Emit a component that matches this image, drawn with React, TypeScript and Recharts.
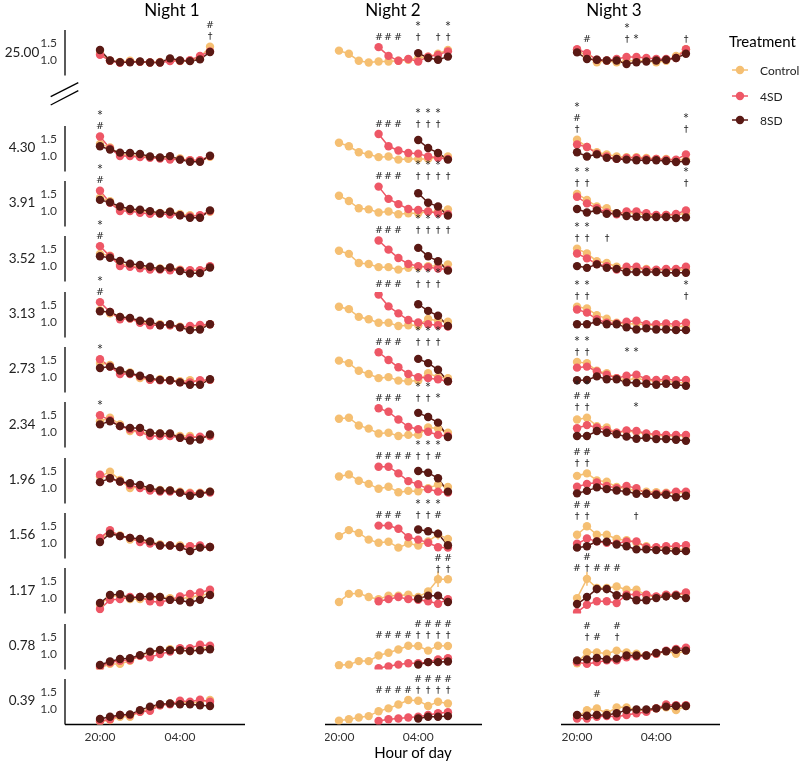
import { LineChart, Line, XAxis, YAxis, ReferenceDot, ErrorBar } from "recharts";

// dose rows, top to bottom
const DOSES = ["25.00", "4.30", "3.91", "3.52", "3.13", "2.73", "2.34", "1.96", "1.56", "1.17", "0.78", "0.39"];
const NIGHTS = ["Night 1", "Night 2", "Night 3"];
// hours after 20:00
const HOURS = [0, 1, 2, 3, 4, 5, 6, 7, 8, 9, 10, 11];
const X_TICKS = [0, 8];
const X_TICK_LABELS = ["20:00", "04:00"];
const Y_TICKS = [1.0, 1.5];
const TREATMENTS = ["Control", "4SD", "8SD"];

const N1_CONTROL = [
  [1.2, 0.98, 0.95, 0.98, 0.95, 0.93, 0.95, 1.0, 0.97, 0.98, 1.08, 1.38],
  [1.35, 1.25, 1.05, 1.03, 1.0, 0.97, 0.95, 0.97, 0.93, 0.88, 0.87, 0.98],
  [1.38, 1.28, 1.05, 1.03, 1.0, 0.97, 0.95, 0.98, 0.92, 0.88, 0.87, 0.98],
  [1.35, 1.3, 1.05, 1.02, 0.97, 0.95, 0.93, 0.95, 0.9, 0.87, 0.87, 0.98],
  [1.34, 1.25, 1.15, 1.1, 1.01, 0.96, 0.94, 0.91, 0.87, 0.85, 0.87, 0.94],
  [1.4, 1.35, 1.16, 1.13, 0.97, 0.92, 0.94, 0.92, 0.88, 0.91, 0.88, 0.92],
  [1.31, 1.41, 1.22, 1.03, 1.0, 0.96, 0.96, 0.93, 0.89, 0.89, 0.84, 0.89],
  [1.33, 1.47, 1.23, 1.0, 1.03, 0.97, 0.95, 0.93, 0.9, 0.87, 0.87, 0.9],
  [1.12, 1.31, 1.22, 1.1, 1.08, 1.03, 0.96, 0.93, 0.93, 0.91, 0.89, 0.89],
  [0.81, 1.05, 1.07, 0.97, 0.97, 1.0, 1.03, 1.0, 0.97, 1.03, 1.07, 1.14],
  [0.6, 0.72, 0.72, 0.81, 0.95, 1.05, 1.11, 1.14, 1.11, 1.09, 1.14, 1.21],
  [0.64, 0.69, 0.78, 0.78, 0.92, 1.02, 1.11, 1.16, 1.21, 1.16, 1.21, 1.26],
];
const N1_4SD = [
  [1.15, 0.98, 0.92, 0.95, 0.95, 0.93, 0.93, 0.97, 0.98, 1.0, 1.12, 1.25],
  [1.56, 1.22, 1.0, 1.0, 0.97, 0.95, 0.93, 0.9, 0.9, 0.88, 0.88, 1.0],
  [1.58, 1.24, 1.0, 1.0, 0.95, 0.92, 0.92, 0.9, 0.88, 0.85, 0.88, 1.0],
  [1.57, 1.28, 1.0, 0.98, 0.94, 0.9, 0.9, 0.88, 0.88, 0.88, 0.88, 1.0],
  [1.57, 1.29, 1.08, 1.1, 0.98, 0.91, 0.91, 0.91, 0.85, 0.89, 0.92, 0.94],
  [1.51, 1.3, 1.09, 1.09, 1.02, 0.92, 0.91, 0.9, 0.85, 0.85, 0.91, 0.92],
  [1.48, 1.34, 1.17, 1.08, 1.0, 0.89, 0.89, 0.89, 0.84, 0.84, 0.87, 0.89],
  [1.38, 1.28, 1.19, 1.09, 1.0, 0.93, 0.9, 0.9, 0.87, 0.85, 0.85, 0.87],
  [1.15, 1.37, 1.2, 1.15, 1.03, 0.99, 0.93, 0.93, 0.89, 0.91, 0.93, 0.89],
  [0.69, 0.95, 0.97, 1.03, 1.03, 0.91, 0.88, 0.95, 1.05, 1.12, 1.16, 1.24],
  [0.64, 0.76, 0.81, 0.83, 0.95, 0.91, 1.0, 1.07, 1.17, 1.17, 1.27, 1.24],
  [0.66, 0.71, 0.83, 0.83, 0.92, 0.95, 1.11, 1.14, 1.24, 1.21, 1.27, 1.21],
];
const N1_8SD = [
  [1.29, 0.99, 0.94, 0.94, 0.96, 0.93, 0.93, 1.05, 0.99, 0.97, 1.02, 1.23],
  [1.28, 1.19, 1.1, 1.09, 1.06, 0.99, 0.96, 1.0, 0.9, 0.84, 0.84, 1.01],
  [1.32, 1.25, 1.13, 1.06, 1.04, 1.0, 0.94, 0.98, 0.88, 0.81, 0.81, 1.02],
  [1.28, 1.24, 1.15, 1.07, 1.03, 0.98, 0.92, 0.96, 0.86, 0.79, 0.8, 0.96],
  [1.31, 1.29, 1.15, 1.12, 1.04, 1.01, 0.91, 0.94, 0.85, 0.77, 0.79, 0.94],
  [1.26, 1.3, 1.19, 1.11, 1.04, 0.97, 0.92, 0.91, 0.85, 0.78, 0.78, 0.94],
  [1.22, 1.31, 1.17, 1.12, 1.12, 0.98, 0.96, 0.96, 0.84, 0.76, 0.79, 0.93],
  [1.17, 1.28, 1.19, 1.14, 1.09, 1.0, 0.93, 0.93, 0.87, 0.78, 0.84, 0.9],
  [1.03, 1.27, 1.2, 1.15, 1.12, 1.05, 0.93, 0.93, 0.89, 0.77, 0.87, 0.89],
  [0.86, 1.09, 1.11, 1.0, 1.03, 1.05, 1.03, 0.95, 0.93, 0.88, 0.95, 1.09],
  [0.69, 0.79, 0.86, 0.88, 0.97, 1.07, 1.12, 1.11, 1.11, 1.09, 1.11, 1.14],
  [0.72, 0.78, 0.83, 0.85, 0.97, 1.07, 1.14, 1.16, 1.14, 1.14, 1.11, 1.09],
];

const N2_CONTROL = [
  [1.27, 1.18, 0.98, 0.93, 0.96, 0.96, 0.98, 1.01, 1.06, 1.1, 1.18, 1.29],
  [1.38, 1.28, 1.11, 1.05, 0.97, 0.99, 0.9, 0.92, 0.92, 0.92, 0.97, 0.99],
  [1.44, 1.29, 1.08, 1.05, 0.96, 0.99, 0.91, 0.94, 0.94, 0.99, 0.99, 1.05],
  [1.44, 1.35, 1.09, 1.06, 0.97, 0.97, 0.9, 0.95, 0.97, 1.0, 1.0, 1.05],
  [1.44, 1.37, 1.15, 1.08, 0.98, 0.98, 0.89, 0.91, 0.91, 1.09, 1.04, 1.01],
  [1.47, 1.4, 1.18, 1.09, 0.97, 1.0, 0.9, 0.88, 0.9, 1.11, 1.0, 0.97],
  [1.38, 1.41, 1.19, 1.1, 0.96, 0.98, 0.89, 0.92, 0.92, 1.13, 1.1, 0.98],
  [1.33, 1.39, 1.21, 1.12, 0.98, 1.04, 0.88, 0.92, 0.91, 1.0, 1.1, 1.03],
  [1.2, 1.37, 1.29, 1.1, 1.01, 1.04, 0.87, 0.99, 0.93, 1.05, 1.25, 1.12],
  [0.89, 1.12, 1.14, 1.03, 0.97, 1.07, 1.07, 1.1, 1.03, 1.19, 1.54, 1.54],
  [0.68, 0.7, 0.8, 0.8, 0.96, 1.04, 1.13, 1.24, 1.23, 1.1, 1.24, 1.23],
  [0.67, 0.71, 0.76, 0.8, 0.94, 1.02, 1.13, 1.26, 1.24, 1.09, 1.21, 1.16],
];
const N2_4SD = [
  [null, null, null, null, 1.37, 1.12, 0.98, 1.03, 0.96, 1.1, 1.15, 1.25],
  [null, null, null, null, 1.63, 1.28, 1.16, 1.09, 1.07, 0.99, 0.95, 0.92],
  [null, null, null, null, 1.7, 1.35, 1.2, 1.06, 1.03, 0.99, 0.94, 0.91],
  [null, null, null, null, 1.73, 1.47, 1.23, 1.06, 1.0, 0.97, 0.93, 0.9],
  [null, null, null, null, 1.79, 1.45, 1.25, 1.06, 0.99, 0.94, 0.91, 0.87],
  [null, null, null, null, 1.71, 1.49, 1.28, 1.09, 1.0, 0.97, 0.94, 0.88],
  [null, null, null, null, 1.68, 1.58, 1.36, 1.15, 1.08, 1.01, 0.92, 0.89],
  [null, null, null, null, 1.61, 1.61, 1.42, 1.2, 1.11, 0.97, 0.9, 0.87],
  [null, null, null, null, 1.5, 1.5, 1.41, 1.17, 1.1, 1.01, 0.88, 0.87],
  [null, null, null, null, 0.91, 0.97, 1.03, 0.97, 0.95, 0.91, 0.84, 0.97],
  [null, null, null, null, 0.6, 0.65, 0.7, 0.74, 0.74, 0.77, 0.85, 0.88],
  [null, null, null, null, 0.66, 0.71, 0.73, 0.76, 0.78, 0.83, 0.88, 0.91],
];
const N2_8SD = [
  [null, null, null, null, null, null, null, null, 1.2, 1.06, 1.01, 1.1],
  [null, null, null, null, null, null, null, null, 1.46, 1.23, 1.09, 0.9],
  [null, null, null, null, null, null, null, null, 1.51, 1.24, 1.13, 0.87],
  [null, null, null, null, null, null, null, null, 1.52, 1.28, 1.14, 0.87],
  [null, null, null, null, null, null, null, null, 1.51, 1.32, 1.18, 0.89],
  [null, null, null, null, null, null, null, null, 1.52, 1.4, 1.21, 0.88],
  [null, null, null, null, null, null, null, null, 1.55, 1.43, 1.27, 0.86],
  [null, null, null, null, null, null, null, null, 1.49, 1.44, 1.28, 0.9],
  [null, null, null, null, null, null, null, null, 1.39, 1.34, 1.27, 0.94],
  [null, null, null, null, null, null, null, null, 0.98, 1.07, 1.07, 0.89],
  [null, null, null, null, null, null, null, null, 0.7, 0.77, 0.77, 0.79],
  [null, null, null, null, null, null, null, null, 0.73, 0.78, 0.78, 0.8],
];

const N3_CONTROL = [
  [1.29, 1.1, 0.94, 0.98, 0.94, 0.98, 0.98, 0.98, 0.94, 0.98, 1.12, 1.31],
  [1.47, 1.26, 1.11, 1.05, 0.99, 0.97, 0.97, 0.95, 0.92, 0.92, 0.88, 0.9],
  [1.49, 1.32, 1.13, 1.08, 0.94, 0.96, 0.94, 0.89, 0.85, 0.89, 0.89, 0.94],
  [1.5, 1.36, 1.14, 1.09, 0.98, 0.92, 0.92, 0.92, 0.88, 0.9, 0.88, 0.9],
  [1.44, 1.39, 1.2, 1.1, 0.98, 0.94, 0.96, 0.91, 0.91, 0.91, 0.87, 0.89],
  [1.43, 1.4, 1.18, 1.11, 0.97, 0.92, 0.97, 0.91, 0.88, 0.88, 0.85, 0.83],
  [1.36, 1.41, 1.17, 1.13, 0.98, 1.03, 1.0, 0.94, 0.91, 0.89, 0.89, 0.89],
  [1.35, 1.42, 1.22, 1.18, 1.03, 0.98, 0.93, 0.9, 0.88, 0.87, 0.86, 0.87],
  [1.24, 1.48, 1.24, 1.24, 1.12, 1.08, 1.01, 0.91, 0.87, 0.87, 0.82, 0.82],
  [1.0, 1.55, 1.29, 1.29, 1.33, 1.24, 1.24, 1.08, 1.03, 1.08, 1.08, 1.14],
  [0.74, 1.05, 1.05, 1.01, 1.1, 1.05, 1.01, 0.96, 1.01, 1.08, 1.01, 1.1],
  [0.76, 0.97, 1.02, 0.88, 1.05, 1.05, 0.97, 0.97, 1.02, 1.05, 0.97, 1.09],
];
const N3_4SD = [
  [1.31, 1.2, 1.01, 0.99, 1.03, 1.09, 1.09, 1.06, 1.03, 1.03, 1.06, 1.31],
  [1.33, 1.26, 1.07, 0.99, 0.92, 0.95, 0.95, 0.92, 0.92, 0.9, 0.9, 1.05],
  [1.41, 1.22, 1.08, 0.96, 0.91, 0.99, 0.99, 0.94, 0.89, 0.89, 0.92, 1.02],
  [1.36, 1.22, 1.06, 1.0, 0.9, 0.98, 0.98, 0.9, 0.9, 0.92, 0.92, 0.98],
  [1.36, 1.27, 1.08, 0.98, 0.96, 1.01, 1.04, 0.94, 0.94, 0.96, 0.94, 0.98],
  [1.27, 1.3, 1.16, 1.07, 0.97, 1.04, 1.07, 0.94, 0.92, 0.94, 0.91, 0.92],
  [1.11, 1.2, 1.13, 1.06, 0.98, 1.05, 1.03, 0.96, 0.94, 0.92, 0.92, 0.92],
  [1.04, 1.12, 1.16, 1.06, 1.0, 1.06, 1.0, 0.85, 0.84, 0.85, 0.9, 0.9],
  [0.98, 1.13, 1.05, 1.01, 0.98, 1.05, 1.05, 0.88, 0.88, 0.91, 0.91, 0.94],
  [0.6, 0.81, 0.91, 0.91, 0.86, 1.1, 1.1, 1.1, 1.05, 1.1, 1.1, 1.16],
  [0.77, 0.72, 0.77, 0.82, 0.82, 0.91, 0.93, 0.96, 1.01, 1.1, 1.15, 1.18],
  [0.73, 0.73, 0.78, 0.8, 0.78, 0.83, 0.88, 0.92, 1.02, 1.13, 1.11, 1.11],
];
const N3_8SD = [
  [1.22, 1.03, 1.01, 0.99, 0.99, 0.89, 0.94, 0.96, 0.99, 1.01, 1.06, 1.18],
  [1.11, 0.99, 1.05, 0.95, 0.92, 0.9, 0.88, 0.88, 0.88, 0.86, 0.83, 0.85],
  [1.06, 0.96, 1.02, 0.92, 0.94, 0.86, 0.84, 0.83, 0.83, 0.83, 0.8, 0.82],
  [1.0, 0.95, 1.05, 0.95, 0.92, 0.83, 0.83, 0.83, 0.83, 0.81, 0.81, 0.81],
  [0.94, 0.94, 1.01, 0.94, 0.94, 0.85, 0.79, 0.82, 0.79, 0.79, 0.77, 0.77],
  [0.91, 0.92, 1.02, 0.94, 0.94, 0.85, 0.83, 0.81, 0.78, 0.81, 0.78, 0.75],
  [0.89, 0.89, 1.03, 0.98, 0.94, 0.87, 0.81, 0.84, 0.8, 0.8, 0.78, 0.75],
  [0.85, 0.92, 1.02, 0.97, 0.93, 0.9, 0.84, 0.84, 0.81, 0.81, 0.74, 0.78],
  [0.87, 0.91, 1.05, 1.04, 0.96, 0.91, 0.82, 0.82, 0.8, 0.79, 0.77, 0.77],
  [0.83, 1.03, 1.26, 1.26, 1.08, 1.05, 0.94, 0.94, 1.0, 1.05, 1.07, 1.0],
  [0.82, 0.85, 0.89, 0.85, 0.87, 0.96, 0.96, 0.96, 1.03, 1.08, 1.12, 1.1],
  [0.83, 0.81, 0.83, 0.83, 0.88, 0.97, 0.99, 0.99, 1.02, 1.07, 1.09, 1.09],
];

// the few visible error bars: [night, row, series, hour index, half-width]
const ERROR_BARS: [number, number, string, number, number][] = [
  [1, 8, "c", 10, 0.15],
  [1, 9, "c", 10, 0.22],
  [1, 9, "c", 11, 0.1],
  [2, 9, "c", 1, 0.2],
  [2, 9, "s8", 2, 0.12],
  [2, 9, "s8", 3, 0.12],
  [2, 9, "s8", 7, 0.1],
  [2, 9, "s8", 8, 0.08],
  [2, 9, "s8", 9, 0.12],
  [2, 9, "s8", 10, 0.12],
  [2, 10, "c", 1, 0.12],
];

// significance marks per row: [hour index, symbols top to bottom]
const N1_MARKS = [
  [[11, "#†"]],
  [[0, "*#"]],
  [[0, "*#"]],
  [[0, "*#"]],
  [[0, "*#"]],
  [[0, "*"]],
  [[0, "*"]],
  [], [], [], [], [],
];
const N2_MARKS = [
  [[4, "#"], [5, "#"], [6, "#"], [8, "*†"], [10, "†"], [11, "*†"]],
  [[4, "#"], [5, "#"], [6, "#"], [8, "*†"], [9, "*†"], [10, "*†"]],
  [[4, "#"], [5, "#"], [6, "#"], [8, "*†"], [9, "*†"], [10, "*†"], [11, "†"]],
  [[4, "#"], [5, "#"], [6, "#"], [8, "*†"], [9, "*†"], [10, "*†"], [11, "†"]],
  [[4, "#"], [5, "#"], [6, "#"], [8, "*†"], [9, "*†"], [10, "*†"]],
  [[4, "#"], [5, "#"], [6, "#"], [8, "*†"], [9, "*†"], [10, "*†"]],
  [[4, "#"], [5, "#"], [6, "#"], [8, "*†"], [9, "*†"], [10, "*"]],
  [[4, "#"], [5, "#"], [6, "#"], [7, "#"], [8, "*†"], [9, "*†"], [10, "*#"]],
  [[4, "#"], [5, "#"], [6, "#"], [8, "*†"], [9, "*†"], [10, "*#"]],
  [[10, "#†"], [11, "#†"]],
  [[4, "#"], [5, "#"], [6, "#"], [7, "#"], [8, "#†"], [9, "#†"], [10, "#†"], [11, "#†"]],
  [[4, "#"], [5, "#"], [6, "#"], [7, "#"], [8, "#†"], [9, "#†"], [10, "#†"], [11, "#†"]],
];
const N3_MARKS = [
  [[1, "#"], [5, "*†"], [6, "*"], [11, "†"]],
  [[0, "*#†"], [11, "*†"]],
  [[0, "*†"], [1, "*†"], [11, "*†"]],
  [[0, "*†"], [1, "*†"], [3, "†"]],
  [[0, "*†"], [1, "*†"], [11, "*†"]],
  [[0, "*†"], [1, "*†"], [5, "*"], [6, "*"]],
  [[0, "*#†"], [1, "*#†"], [6, "*"]],
  [[0, "#†"], [1, "#†"]],
  [[0, "#†"], [1, "#†"], [6, "†"]],
  [[0, "#"], [1, "#†"], [2, "#"], [3, "#"], [4, "#"]],
  [[1, "#†"], [2, "#"], [4, "#†"]],
  [[2, "#"]],
];

const NIGHT_DATA = [
  { control: N1_CONTROL, sd4: N1_4SD, sd8: N1_8SD, marks: N1_MARKS },
  { control: N2_CONTROL, sd4: N2_4SD, sd8: N2_8SD, marks: N2_MARKS },
  { control: N3_CONTROL, sd4: N3_4SD, sd8: N3_8SD, marks: N3_MARKS },
];

const COLORS = ["#F5BF72", "#EE5766", "#5A1914"];
const FONT = "Lato, 'Open Sans', sans-serif";
const MARK_FONT = "'DejaVu Sans', 'Liberation Sans', sans-serif";

// layout
const Y_DOMAIN = [0.56, 1.86];
const PX_PER_UNIT = 35;
const PANEL_H = (Y_DOMAIN[1] - Y_DOMAIN[0]) * PX_PER_UNIT;
const TOP = 50;
const YW = 30;
const XH = 24;
const COLS = [
  { left: 65, width: 180, domain: [-3.5, 14.5] },
  { left: 325, width: 157, domain: [-1.41, 14.44] },
  { left: 561, width: 159, domain: [-1.62, 14.44] },
];
const rowOne = (r: number) => (r === 0 ? 60.3 : 155.7 + (r - 1) * 55.33);
const rowTop = (r: number) => rowOne(r) - (Y_DOMAIN[1] - 1) * PX_PER_UNIT;

function MarkStack(props: any) {
  const { cx, cy, marks } = props;
  const chars = Array.from(marks as string);
  const n = chars.length;
  const x = Math.round(cx);
  return (
    <g>
      {chars.map((ch, i) => (
        <text
          key={i}
          x={x}
          y={Math.round(cy - 7.5 - (n - 1 - i) * 11)}
          textAnchor="middle"
          fontSize={ch === "*" ? 10 : 9.5}
          fontFamily={MARK_FONT}
          fill="#222"
          stroke="none"
        >
          {ch}
        </text>
      ))}
    </g>
  );
}

function Panel({ col, row }: { col: number; row: number }) {
  const night = NIGHT_DATA[col];
  const c = night.control[row];
  const s4 = night.sd4[row];
  const s8 = night.sd8[row];
  const data: any[] = HOURS.map((t, i) => ({ t, c: c[i], s4: s4[i], s8: s8[i] }));
  ERROR_BARS.filter(([n, r]) => n === col && r === row).forEach(([, , k, i, e]) => {
    data[i][`${k}Err`] = e;
  });
  const errKeys = new Set(ERROR_BARS.filter(([n, r]) => n === col && r === row).map((e) => e[2]));
  const peak = Math.max(...([...c, ...s4, ...s8].filter((v) => v != null) as number[]));
  const showY = col === 0;
  const showX = row === DOSES.length - 1;
  const cfg = COLS[col];
  const width = cfg.width + (showY ? YW : 0);
  const height = TOP + PANEL_H + (showX ? XH : 0);
  const tick = { fontSize: 12, fill: "#333", fontFamily: FONT };

  return (
    <div
      style={{
        position: "absolute",
        left: cfg.left - (showY ? YW : 0),
        top: rowTop(row) - TOP,
        width,
        height,
        willChange: "transform",
      }}
    >
      <LineChart width={width} height={height} data={data} margin={{ top: TOP, right: 0, bottom: 0, left: 0 }}>
        <XAxis
          dataKey="t"
          type="number"
          domain={cfg.domain}
          allowDataOverflow
          ticks={X_TICKS}
          interval={0}
          tickFormatter={(v) => X_TICK_LABELS[X_TICKS.indexOf(v)]}
          tickLine={false}
          tick={tick}
          stroke="#000"
          strokeWidth={1.3}
          height={XH}
          hide={!showX}
        />
        <YAxis
          type="number"
          domain={Y_DOMAIN}
          allowDataOverflow
          ticks={Y_TICKS}
          interval={0}
          tickFormatter={(v) => v.toFixed(1)}
          tickLine={false}
          tick={tick}
          stroke="#000"
          strokeWidth={1.3}
          width={YW}
          hide={!showY}
        />
        {(["c", "s4", "s8"] as const).map((k, i) => (
          <Line
            key={k}
            dataKey={k}
            stroke={COLORS[i]}
            strokeWidth={1.5}
            dot={{ r: 4.2, fill: COLORS[i], stroke: "none" }}
            isAnimationActive={false}
          >
            {errKeys.has(k) && (
              <ErrorBar dataKey={`${k}Err`} width={0} stroke={COLORS[i]} strokeWidth={1.5} direction="y" isAnimationActive={false} />
            )}
          </Line>
        ))}
        {night.marks[row].map(([h, m]: any) => (
          <ReferenceDot
            key={h}
            x={h}
            y={peak}
            r={0}
            ifOverflow="visible"
            shape={(p: any) => <MarkStack {...p} marks={m} />}
          />
        ))}
      </LineChart>
    </div>
  );
}

export default function App() {
  return (
    <div style={{ position: "absolute", left: 0, top: 0, width: 800, height: 763, background: "#fff" }}>
      {NIGHTS.map((_, col) =>
        DOSES.map((__, row) => <Panel key={`${col}-${row}`} col={col} row={row} />)
      )}
      <svg width={800} height={763} style={{ position: "absolute", left: 0, top: 0, pointerEvents: "none" }}>
        {[172, 393, 614].map((x, i) => (
          <text key={i} x={x} y={16} textAnchor="middle" fontSize={17} fontFamily={FONT} fill="#000">
            {NIGHTS[i]}
          </text>
        ))}
        {DOSES.map((d, r) => (
          <text key={d} x={22} y={rowOne(r) - 8.75} textAnchor="middle" dominantBaseline="central" fontSize={13.5} fontFamily={FONT} fill="#222">
            {d}
          </text>
        ))}
        <line x1={50.7} y1={96.7} x2={78.3} y2={82.7} stroke="#000" strokeWidth={1.3} />
        <line x1={50.7} y1={105} x2={78.3} y2={90.7} stroke="#000" strokeWidth={1.3} />
        <text x={413} y={758} textAnchor="middle" fontSize={15} fontFamily={FONT} fill="#000">
          Hour of day
        </text>
        <text x={729} y={47} fontSize={15} fontFamily={FONT} fill="#000">
          Treatment
        </text>
        {TREATMENTS.map((t, i) => {
          const y = [70, 96, 120][i];
          return (
            <g key={t}>
              <line x1={732} y1={y} x2={748} y2={y} stroke={COLORS[i]} strokeWidth={1.5} />
              <circle cx={740} cy={y} r={4.2} fill={COLORS[i]} />
              <text x={760} y={y} dominantBaseline="central" fontSize={12} fontFamily={FONT} fill="#222">
                {t}
              </text>
            </g>
          );
        })}
      </svg>
    </div>
  );
}
